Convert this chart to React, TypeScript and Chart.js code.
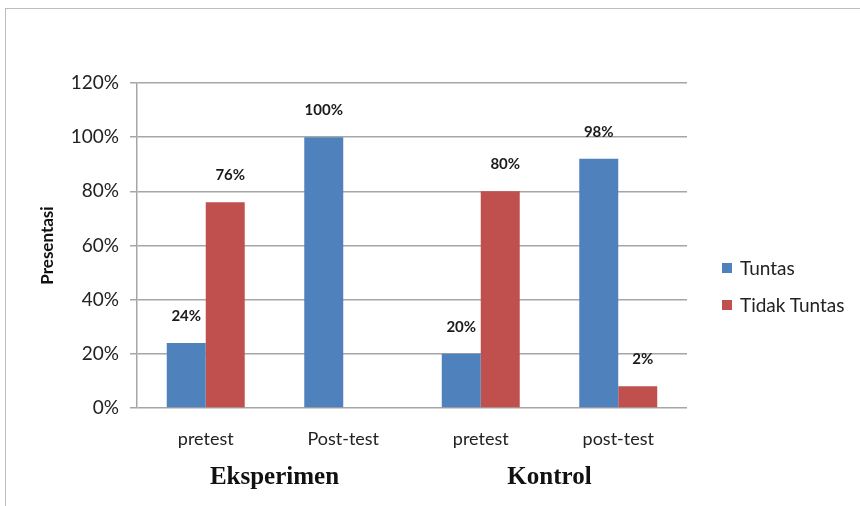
import React, { useEffect, useRef } from "react";
import { Chart, registerables } from "chart.js";

Chart.register(...registerables);

const categories = ["pretest", "Post-test", "pretest", "post-test"];
const groupLabels = ["Eksperimen", "Kontrol"];
const seriesNames = ["Tuntas", "Tidak Tuntas"];
const tuntasValues = [24, 100, 20, 92];
const tidakTuntasValues = [76, 0, 80, 8];
const tuntasLabels = ["24%", "100%", "20%", "98%"];
const tidakTuntasLabels = ["76%", null, "80%", "2%"];
const yTicks = [0, 20, 40, 60, 80, 100, 120];

const colors = ["#4F81BD", "#C0504D"];
const sans = "Lato, 'Open Sans', sans-serif";

const valueLabelPlugin = {
  id: "valueLabels",
  afterDatasetsDraw(chart: any) {
    const ctx = chart.ctx;
    const all = [tuntasLabels, tidakTuntasLabels];
    ctx.save();
    ctx.font = `bold 15px ${sans}`;
    ctx.fillStyle = "#1a1a1a";
    ctx.textAlign = "center";
    ctx.textBaseline = "middle";
    chart.data.datasets.forEach((_: any, di: number) => {
      const meta = chart.getDatasetMeta(di);
      meta.data.forEach((el: any, i: number) => {
        const t = all[di][i];
        if (!t) return;
        ctx.fillText(t, el.x + (di === 1 ? 5 : 0), el.y - 27);
      });
    });
    ctx.restore();
  },
};

export default function App() {
  const ref = useRef<HTMLCanvasElement>(null);

  useEffect(() => {
    if (!ref.current) return;
    const chart = new Chart(ref.current, {
      type: "bar",
      data: {
        labels: categories,
        datasets: [
          {
            label: seriesNames[0],
            data: tuntasValues,
            backgroundColor: colors[0],
            categoryPercentage: 0.567,
            barPercentage: 1,
          },
          {
            label: seriesNames[1],
            data: tidakTuntasValues,
            backgroundColor: colors[1],
            categoryPercentage: 0.567,
            barPercentage: 1,
          },
        ],
      },
      options: {
        animation: false,
        responsive: false,
        maintainAspectRatio: false,
        layout: { padding: { left: 33, right: 173, top: 83, bottom: 0 } },
        plugins: {
          legend: { display: false },
          tooltip: { enabled: false },
        },
        scales: {
          x: {
            type: "category",
            position: "bottom",
            grid: { display: false },
            border: { display: false },
            ticks: { font: { family: sans, size: 18 }, color: "#222", padding: 12 },
            afterFit: (s: any) => {
              s.height = 40;
            },
          },
          x2: {
            type: "category",
            position: "bottom",
            labels: groupLabels,
            offset: true,
            grid: { display: false },
            border: { display: false },
            ticks: {
              font: { family: "'Liberation Serif', 'Times New Roman', serif", size: 25, weight: "bold" },
              color: "#111",
              padding: 7,
            },
            afterFit: (s: any) => {
              s.height = 58;
            },
          },
          y: {
            min: 0,
            max: 120,
            afterBuildTicks: (s: any) => {
              s.ticks = yTicks.map((v) => ({ value: v }));
            },
            ticks: {
              callback: (v: any) => v + "%",
              font: { family: sans, size: 19 },
              color: "#222",
              padding: 11,
            },
            grid: { color: "#a6a6a6", lineWidth: 1.5, tickLength: 7 },
            border: { display: true, color: "#a6a6a6", width: 1.5 },
            title: {
              display: true,
              text: "Presentasi",
              font: { family: sans, size: 17, weight: "bold" },
              color: "#111",
              padding: 4,
            },
            afterFit: (s: any) => {
              s.width = 104;
            },
          },
        },
      },
      plugins: [valueLabelPlugin],
    });
    return () => chart.destroy();
  }, []);

  return (
    <div style={{ position: "fixed", left: 0, top: 0, width: 860, height: 506, background: "#fff", overflow: "hidden" }}>
      <div
        style={{
          position: "absolute",
          left: 5,
          top: 8,
          width: 900,
          height: 600,
          border: "1px solid #bdbdbd",
        }}
      />
      <canvas ref={ref} width={860} height={506} style={{ position: "absolute", left: 0, top: 0 }} />
      <div style={{ position: "absolute", left: 722, top: 249, fontFamily: sans, fontSize: 19, color: "#222" }}>
        {seriesNames.map((n, i) => (
          <div key={n} style={{ display: "flex", alignItems: "center", height: 37 }}>
            <span style={{ display: "inline-block", width: 10, height: 10, background: colors[i], marginRight: 8 }} />
            <span>{n}</span>
          </div>
        ))}
      </div>
    </div>
  );
}
